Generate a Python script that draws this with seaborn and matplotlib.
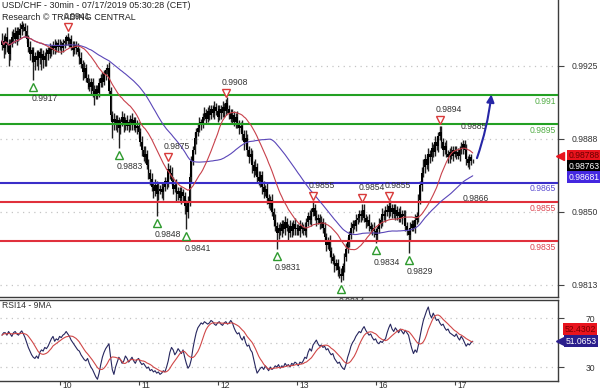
import numpy as np
import pandas as pd
import matplotlib
matplotlib.use("Agg")
import matplotlib.pyplot as plt
import matplotlib.transforms as mtransforms
from matplotlib.patches import FancyArrowPatch
import seaborn as sns

# ---------------- data (USD/CHF 30min, prices in pips above base) ----------------
base_price = 0.9800
first_open_pips = 136
close_pips = [
    138, 134, 140, 136, 131, 137,
    140, 142, 139, 143, 141, 144, 146, 145, 143,
    139, 135, 131, 133,
    127,
    130, 128, 132, 129, 131, 128, 130, 133,
    131, 134, 133, 136, 134, 137, 135, 136, 134, 137, 138,
    140, 138, 139,
    135, 133, 136, 134, 132,
    129, 126, 122, 124, 119, 116,
    114, 117, 112, 110, 113, 111,
    116, 119, 117, 121, 123, 124,
    112, 100, 96,
    98, 95, 97, 93, 96, 99, 95, 97, 94, 96, 98,
    95, 97, 93, 94, 91,
    86, 82, 78, 80, 74, 70, 67,
    63, 61, 64, 59, 61,
    62, 60, 63, 66, 65,
    72, 70,
    66, 62, 64, 59, 61, 57, 60, 58,
    53, 50, 55,
    68, 76, 82, 88, 91,
    93, 96, 95, 99, 101, 98, 102,
    100, 103, 101, 104, 102, 99, 103, 101, 104, 102,
    106, 103,
    101, 98, 100, 96, 99, 95, 93, 94,
    90, 86, 88, 82, 78, 80, 74,
    71, 73, 68, 66, 69, 63,
    60, 62, 57, 54, 56, 50,
    46, 43, 39, 42, 40, 44,
    41, 45, 42, 39, 43, 40, 44, 41,
    42, 40, 43, 41, 42, 40,
    45, 48, 46, 50, 52,
    48, 46, 47, 44, 45, 42,
    37, 33, 35, 30, 27,
    25, 22, 24, 20, 18, 17,
    22, 27, 31, 35, 38,
    42, 44, 43, 46, 47,
    49, 48, 51,
    47, 45, 46, 43, 41, 42, 40,
    38, 41,
    44, 46, 49, 48, 51, 50, 53,
    50, 52, 49, 51, 48, 50, 47, 49, 48,
    43, 40, 38, 42,
    44, 42, 46, 48,
    56, 64, 70, 73,
    77, 74, 80, 78, 83, 81,
    86, 84, 89, 91,
    86, 82, 84, 80, 78,
    81, 79, 82, 80, 81, 79, 82,
    83, 85, 82,
    77, 75, 78, 76, 76.3,
]
up_wick = [
    4, 3, 2, 5, 3, 2, 3, 2, 3, 2,
    2, 3, 2, 1, 2, 3, 2, 3, 2, 2,
    2, 3, 1, 2, 3, 2, 2, 1, 2, 3,
    2, 2, 3, 1, 2, 3, 2, 2, 1, 1,
    2, 1, 2, 3, 2, 2, 3, 2, 3, 2,
    3, 2, 2, 3, 2, 2, 3, 2, 2, 3,
    2, 3, 2, 1, 2, 3, 2, 2, 3, 2,
    3, 2, 2, 3, 2, 2, 3, 2, 2, 3,
    2, 2, 3, 2, 2, 3, 2, 4, 2, 3,
    2, 3, 2, 3, 2, 4, 2, 3, 2, 2,
    2, 3, 2, 3, 2, 2, 3, 2, 2, 3,
    2, 2, 3, 3, 2, 3, 2, 3, 2, 2,
    3, 2, 2, 3, 2, 2, 3, 2, 2, 3,
    2, 3, 2, 2, 3, 2, 2, 3, 2, 2,
    3, 2, 2, 3, 2, 2, 3, 2, 4, 2,
    2, 3, 2, 2, 4, 2, 3, 2, 2, 3,
    2, 3, 2, 2, 3, 2, 3, 2, 2, 3,
    2, 2, 3, 2, 2, 3, 2, 2, 3, 2,
    2, 3, 2, 2, 3, 2, 2, 3, 2, 3,
    2, 3, 2, 2, 3, 2, 3, 2, 2, 3,
    2, 2, 3, 2, 2, 2, 3, 2, 2, 3,
    2, 2, 3, 2, 2, 3, 2, 2, 2, 3,
    3, 2, 2, 3, 2, 2, 3, 2, 2, 3,
    2, 3, 2, 2, 3, 2, 3, 2, 2, 3,
    2, 2, 3, 2, 2, 3, 2, 2, 3, 2,
    2, 3, 2, 3, 2, 3, 4, 3, 2, 3,
    2, 3, 2, 3, 2, 2, 3, 3, 2, 2,
    3, 2, 2, 3, 2, 2, 3, 2, 2, 3,
    2, 2, 3, 2, 2, 2, 1,
]
dn_wick = [
    3, 5, 3, 4, 6, 3, 2, 3, 2, 3,
    3, 2, 3, 2, 3, 2, 3, 3, 4, 9,
    4, 3, 5, 3, 6, 4, 3, 5, 3, 2,
    3, 2, 3, 2, 3, 2, 3, 2, 3, 2,
    2, 3, 2, 3, 2, 3, 2, 3, 2, 4,
    3, 2, 3, 2, 4, 3, 5, 2, 3, 2,
    2, 3, 2, 3, 2, 2, 3, 8, 4, 3,
    4, 10, 3, 2, 4, 3, 2, 3, 4, 3,
    3, 2, 3, 3, 2, 3, 2, 3, 2, 3,
    3, 2, 4, 3, 11, 3, 2, 3, 4, 2,
    3, 2, 3, 2, 3, 2, 4, 3, 2, 3,
    3, 4, 9, 3, 2, 3, 2, 2, 3, 2,
    2, 3, 2, 2, 3, 2, 3, 2, 2, 3,
    2, 3, 2, 3, 2, 3, 2, 2, 3, 2,
    3, 2, 3, 2, 3, 2, 3, 4, 2, 3,
    3, 2, 4, 3, 2, 3, 2, 3, 4, 3,
    2, 3, 2, 3, 2, 3, 3, 8, 3, 2,
    3, 2, 3, 2, 4, 2, 3, 2, 3, 3,
    2, 3, 2, 3, 2, 3, 2, 2, 3, 2,
    2, 3, 2, 3, 2, 3, 2, 3, 2, 3,
    3, 2, 3, 2, 3, 2, 3, 2, 3, 2,
    2, 3, 2, 3, 2, 3, 2, 2, 3, 2,
    2, 3, 2, 3, 2, 3, 3, 4, 3, 2,
    2, 3, 2, 3, 2, 3, 2, 3, 2, 3,
    2, 3, 2, 3, 2, 3, 2, 9, 3, 2,
    2, 3, 2, 3, 2, 3, 2, 3, 2, 3,
    3, 2, 3, 2, 2, 3, 2, 3, 3, 2,
    2, 3, 3, 2, 3, 2, 3, 2, 3, 2,
    3, 2, 3, 2, 3, 2, 1,
]

# RSI(14), one value per bar
rsi_values = [
    56, 58,
    58, 56, 59, 57, 55, 58, 59, 57, 56, 58, 59.5, 57,
    54, 50, 46, 43, 40, 38, 37, 39, 37,
    42, 44, 43, 46, 45, 47, 50, 53,
    55, 51, 53, 52, 55, 54, 56, 57, 59, 57, 55,
    52, 50, 48, 46, 44, 43, 40, 38, 36, 35, 37, 33, 30, 28, 25, 22, 20,
    25, 32, 38, 42, 45, 47, 49,
    38, 28, 24,
    30, 34, 38, 36, 33, 35, 39, 37, 34, 36, 38, 35, 33, 36, 37, 34, 32, 33,
    31, 29, 30, 27, 28, 26, 27, 25, 26, 24, 25, 27, 26,
    30, 35, 42, 46, 44, 40, 42, 45, 43, 41, 44,
    38, 33, 29, 31,
    36, 45, 52, 58, 62, 64, 66, 65, 67, 66,
    65, 66, 68, 67, 65, 64, 66, 67, 65, 64, 66, 67, 65, 66, 68, 66,
    62, 59, 57, 58, 54, 52, 55, 50, 47, 48, 44, 42,
    36, 30, 25, 27, 29, 30, 28, 31, 29, 27, 30, 28,
    29, 31, 30, 32, 29, 31, 30, 33, 31, 32, 30, 33, 32, 34, 33, 31, 34, 33,
    35, 38, 37, 42, 45, 43, 48, 50, 52, 49, 47,
    48, 46, 47, 44, 45, 42, 40, 41, 37, 35, 33, 34, 31, 29,
    28, 32, 38, 42, 47, 50, 52, 55, 57, 59, 58, 61, 63, 60,
    58, 56, 57, 54, 52, 53, 50, 49, 51, 50, 52, 53,
    58, 62, 65, 61, 59, 62, 60, 58, 61, 59, 57, 60, 58, 56,
    50, 45, 41, 44, 42,
    48, 55, 62, 68, 72, 76, 79,
    73, 70, 74, 71, 68, 69, 66, 64, 65, 62, 60, 61, 58, 57,
    56, 55, 57, 54, 52, 55, 53, 50, 47, 49, 48, 50, 51.07,
]

day_tick_idx = [35, 83, 131, 179, 227, 275]
day_labels = ["10", "11", "12", "13", "16", "17"]

price_ticks = [0.9925, 0.98875, 0.9850, 0.98125]
price_tick_labels = ["0.9925", "0.9888", "0.9850", "0.9813"]

level_values = [0.9910, 0.9895, 0.9865, 0.9855, 0.9835]
level_labels = ["0.991", "0.9895", "0.9865", "0.9855", "0.9835"]
level_colors = ["#23a023", "#23a023", "#3a2ec8", "#e0303c", "#e0303c"]
level_text_colors = ["#52ad45", "#52ad45", "#5a4bd0", "#dc4450", "#dc4450"]

swing_high_idx = [40, 101, 136, 189, 219, 235, 266]
swing_high_labels = ["0.9941", "0.9875", "0.9908", "0.9855", "0.9854", "0.9855", "0.9894"]
swing_low_idx = [19, 71, 94, 112, 167, 206, 227, 247]
swing_low_labels = ["0.9917", "0.9883", "0.9848", "0.9841", "0.9831", "0.9814", "0.9834", "0.9829"]

pivot_labels = ["0.9885", "0.9866"]
pivot_idx = [286.8, 288.0]
pivot_price = [0.98937, 0.98567]

projection_idx = [288.0, 297.5]
projection_end_price = 0.99118

price_tags = ["0.98788", "0.98763", "0.98681"]
price_tag_value = 0.98788
price_tag_bg = ["#e8141e", "#000000", "#4428e0"]
price_tag_fg = ["#6a0000", "#ffffff", "#ffffff"]

rsi_ticks = [70, 30]
rsi_tags = ["52.4302", "51.0653"]
rsi_tag_value = 51.0653

# ---------------- derived series ----------------
n = len(close_pips)
idx = np.arange(n)
close = base_price + np.array(close_pips, float) / 1e4
open_ = np.concatenate([[base_price + first_open_pips / 1e4], close[:-1]])
body_top = np.maximum(open_, close)
body_bot = np.minimum(open_, close)
high = body_top + np.array(up_wick[:n], float) / 1e4
low = body_bot - np.array(dn_wick[:n], float) / 1e4

s = pd.Series(close)
ma_fast = s.rolling(20, min_periods=1).mean()
ma_slow = s.rolling(50, min_periods=1).mean()

rsi = pd.Series(rsi_values, dtype=float)
rsi_idx = np.arange(len(rsi))
rsi_ma = rsi.rolling(9, min_periods=1).mean()

# ---------------- styling ----------------
sns.set_theme(style="white")
plt.rcParams["font.family"] = ["Liberation Sans", "DejaVu Sans"]
FS = 6.2
W, H = 600, 392

fig = plt.figure(figsize=(6.0, 3.92), dpi=100)
ax = fig.add_axes([0, 1 - 297 / H, 558 / W, 297 / H])
axr = fig.add_axes([0, 1 - 381 / H, 558 / W, 81 / H])

xlim = (-1.2, 337.8)
for a in (ax, axr):
    a.set_xlim(*xlim)
    a.set_facecolor("white")
    a.grid(False)
    a.spines["left"].set_visible(False)
    for sp in ("right", "bottom", "top"):
        a.spines[sp].set_color("#3c3c3c")
        a.spines[sp].set_linewidth(1.0)
ax.spines["top"].set_visible(False)

ax.set_ylim(0.98063, 0.99589)
axr.set_ylim(18.6, 84.7)

# dotted grid
dot = (0, (1, 3.5))
for t in price_ticks:
    ax.axhline(t, color="#c4c4c4", ls=dot, lw=0.9, zorder=0)
for t in [70, 50, 30]:
    axr.axhline(t, color="#c4c4c4", ls=dot, lw=0.9, zorder=0)

# candles
ax.vlines(idx, low, high, color="#202020", lw=1.0, zorder=2)
ax.bar(idx, np.maximum(body_top - body_bot, 0.00004), bottom=body_bot, width=1.0,
       color="black", lw=0, zorder=2)

# levels
for v, lab, c, tc in zip(level_values, level_labels, level_colors, level_text_colors):
    ax.axhline(v, color=c, lw=1.5, zorder=3)
    ax.annotate(lab, xy=(1, v), xycoords=("axes fraction", "data"), xytext=(-1.5, -1.2),
                textcoords="offset points", ha="right", va="top", color=tc, fontsize=FS)

# moving averages
sns.lineplot(x=idx, y=ma_slow.values, ax=ax, color="#5a46b8", lw=0.8, zorder=4)
sns.lineplot(x=idx, y=ma_fast.values, ax=ax, color="#c8414b", lw=0.8, zorder=4)

# swing markers
hi_tr = mtransforms.offset_copy(ax.transData, fig=fig, y=4.3, units="points")
lo_tr = mtransforms.offset_copy(ax.transData, fig=fig, y=-5.0, units="points")
ax.plot(swing_high_idx, high[swing_high_idx], ls="none", marker="v", ms=5.5, mfc="white",
        mec="#d83a3a", mew=1.0, transform=hi_tr, zorder=5)
ax.plot(swing_low_idx, low[swing_low_idx], ls="none", marker="^", ms=5.5, mfc="white",
        mec="#2e9a2e", mew=1.0, transform=lo_tr, zorder=5)
for i, lab in zip(swing_high_idx, swing_high_labels):
    ax.annotate(lab, xy=(i, high[i]), xytext=(-3, 12), textcoords="offset points",
                ha="left", va="center", fontsize=FS, color="#333333", zorder=6)
for i, lab in zip(swing_low_idx, swing_low_labels):
    ax.annotate(lab, xy=(i, low[i]), xytext=(-1.5, -13.7), textcoords="offset points",
                ha="left", va="center", fontsize=FS, color="#333333", zorder=6,
                annotation_clip=False)
for i, p, lab in zip(pivot_idx, pivot_price, pivot_labels):
    ax.text(i, p, lab, ha="center", va="center", fontsize=FS, color="#333333", zorder=6)

# projection arrow
arr = FancyArrowPatch((projection_idx[0], close[-1]), (projection_idx[1], projection_end_price),
                      arrowstyle="-|>", mutation_scale=11, lw=1.5, color="#2626a6",
                      connectionstyle="arc3,rad=0.06", zorder=6)
ax.add_patch(arr)

# price axis (right)
ax.yaxis.tick_right()
ax.set_yticks(price_ticks)
ax.set_yticklabels(price_tick_labels)
ax.tick_params(axis="y", direction="out", length=4, width=0.8, color="#444444",
               labelsize=FS, pad=6, labelcolor="#333333", right=True, left=False)
ax.set_xticks([])

# price tags
blend = mtransforms.blended_transform_factory(ax.transAxes, ax.transData)
tag_offsets = [0, -7.6, -15.2]
for txt, bg, fg, off in zip(price_tags, price_tag_bg, price_tag_fg, tag_offsets):
    ax.annotate(txt, xy=(1, price_tag_value), xycoords=blend, xytext=(7.4, off),
                textcoords="offset points", ha="left", va="center", fontsize=FS, color=fg,
                bbox=dict(boxstyle="square,pad=0.2", fc=bg, ec="none"), annotation_clip=False,
                zorder=7)
ax.plot([1.004], [price_tag_value], marker="<", ms=6, color=price_tag_bg[0], transform=blend,
        clip_on=False, zorder=7)

# RSI panel
sns.lineplot(x=rsi_idx, y=rsi.values, ax=axr, color="#26265e", lw=0.8, zorder=3)
sns.lineplot(x=rsi_idx, y=rsi_ma.values, ax=axr, color="#d04848", lw=0.8, zorder=4)
axr.yaxis.tick_right()
axr.set_yticks(rsi_ticks)
axr.set_yticklabels([str(t) for t in rsi_ticks])
axr.tick_params(axis="y", direction="out", length=4, width=0.8, color="#444444",
                labelsize=FS, pad=16, labelcolor="#333333", right=True, left=False)
axr.set_xticks(day_tick_idx)
axr.set_xticklabels(day_labels)
axr.tick_params(axis="x", direction="out", length=3.2, width=0.8, color="#444444",
                labelsize=FS, pad=0, labelcolor="#333333", bottom=True)
shift = mtransforms.ScaledTranslation(3 / 100, 4 / 100, fig.dpi_scale_trans)
for lab in axr.get_xticklabels():
    lab.set_horizontalalignment("left")
    lab.set_transform(lab.get_transform() + shift)

rblend = mtransforms.blended_transform_factory(axr.transAxes, axr.transData)
axr.annotate(rsi_tags[0], xy=(1, rsi_tag_value), xycoords=rblend, xytext=(4.5, 8.6),
             textcoords="offset points", ha="left", va="center", fontsize=FS, color="#7a0000",
             bbox=dict(boxstyle="square,pad=0.2", fc="#e8141e", ec="none"), annotation_clip=False)
axr.annotate(rsi_tags[1], xy=(1, rsi_tag_value), xycoords=rblend, xytext=(5.5, 0),
             textcoords="offset points", ha="left", va="center", fontsize=FS, color="white",
             bbox=dict(boxstyle="square,pad=0.2", fc="#2a1e8c", ec="none"), annotation_clip=False)
axr.plot([1.004], [rsi_tag_value], marker="<", ms=6, color="#2a1e8c", transform=rblend,
         clip_on=False, zorder=7)

# titles
fig.text(2 / W, 1 - 5.5 / H, "USD/CHF - 30min - 07/17/2019 05:30:28 (CET)", fontsize=6.4,
         ha="left", va="center", color="#222222")
fig.text(2 / W, 1 - 17.5 / H, "Research \u00a9 TRADING CENTRAL", fontsize=6.4,
         ha="left", va="center", color="#222222")
fig.text(2 / W, 1 - 306 / H, "RSI14 - 9MA", fontsize=FS, ha="left", va="center", color="#333333")

fig.savefig("out.png", dpi=100)
